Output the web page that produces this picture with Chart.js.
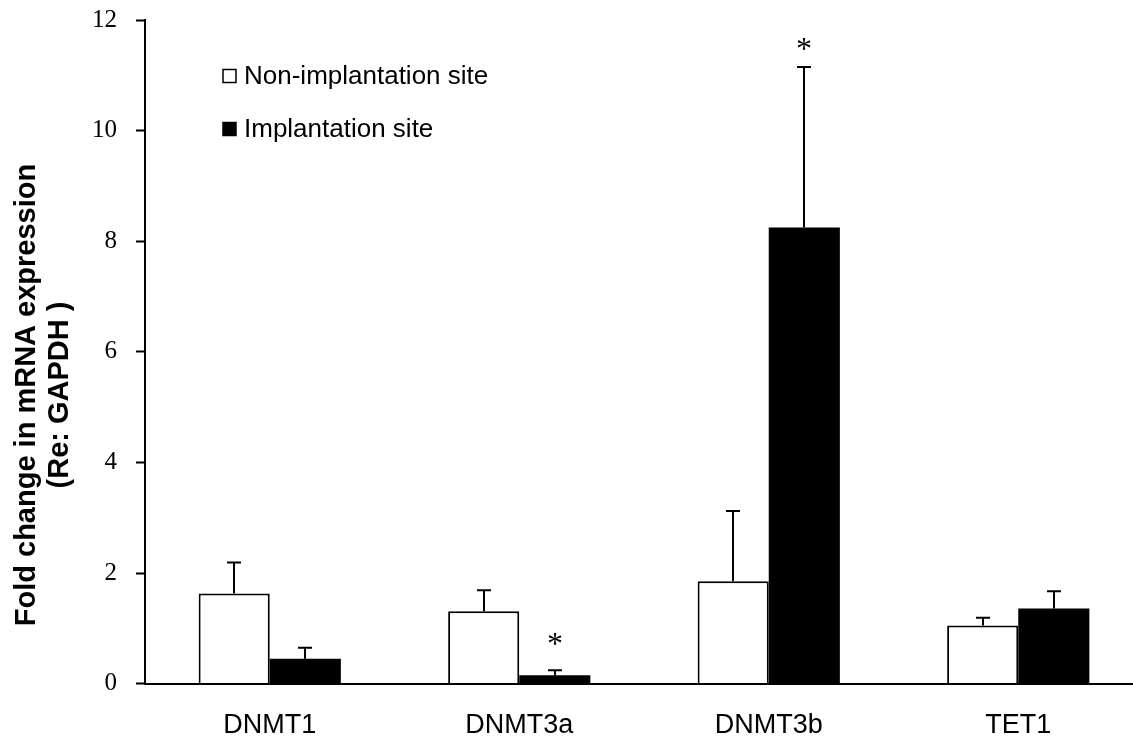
<!DOCTYPE html>
<html><head><meta charset="utf-8">
<script src="https://cdn.jsdelivr.net/npm/chart.js@4/dist/chart.umd.min.js"></script>
<style>html,body{margin:0;padding:0;background:#fff;overflow:hidden}#wrap{width:1133px;height:740px;overflow:hidden;position:relative}#c{position:absolute;left:0;top:-14px}</style>
</head><body><div id="wrap"><canvas id="c" width="1143" height="782" style="width:1143px;height:782px"></canvas></div>
<script>
const categories = ['DNMT1', 'DNMT3a', 'DNMT3b', 'TET1'];
const nonImplantation = [1.63, 1.31, 1.85, 1.05];
const nonImplantationErr = [0.56, 0.38, 1.27, 0.14];
const implantation = [0.45, 0.15, 8.25, 1.36];
const implantationErr = [0.20, 0.09, 2.90, 0.31];
const implantationSig = ['', '*', '*', ''];
const implantationSigAt = [null, 0.78, 11.53, null];
const yTicks = [0, 2, 4, 6, 8, 10, 12];
const yTitle = ['Fold change in mRNA expression', '(Re: GAPDH )'];
const OFFSET = 14; // canvas is shifted up by this many pixels in the page

const errorBars = {
  id: 'errorBars',
  afterDatasetsDraw(chart) {
    const ctx = chart.ctx, y = chart.scales.y;
    chart.data.datasets.forEach((ds, di) => {
      const meta = chart.getDatasetMeta(di);
      meta.data.forEach((bar, i) => {
        const top = y.getPixelForValue(ds.data[i] + ds.err[i]);
        const x = Math.round(bar.x);
        ctx.save();
        ctx.strokeStyle = '#000'; ctx.lineWidth = 2;
        ctx.beginPath();
        ctx.moveTo(x, bar.y); ctx.lineTo(x, top);
        ctx.moveTo(x - 7, top); ctx.lineTo(x + 7, top);
        ctx.stroke();
        if (ds.sig && ds.sig[i]) {
          ctx.fillStyle = '#000';
          ctx.font = '32px "Liberation Serif"';
          ctx.textAlign = 'center'; ctx.textBaseline = 'middle';
          ctx.fillText(ds.sig[i], x, y.getPixelForValue(ds.sigAt[i]) + 5);
        }
        ctx.restore();
      });
    });
  }
};

const innerLegend = {
  id: 'innerLegend',
  afterDraw(chart) {
    const ctx = chart.ctx;
    const x0 = 223, ys = [76 + OFFSET, 129 + OFFSET];
    chart.data.datasets.forEach((ds, i) => {
      ctx.save();
      ctx.fillStyle = ds.backgroundColor;
      ctx.strokeStyle = '#000'; ctx.lineWidth = 1.5;
      ctx.fillRect(x0, ys[i] - 6.5, 13, 13);
      ctx.strokeRect(x0, ys[i] - 6.5, 13, 13);
      ctx.fillStyle = '#000';
      ctx.font = '26px "Liberation Sans"';
      ctx.textBaseline = 'middle';
      ctx.fillText(ds.label, x0 + 21, ys[i] + 1);
      ctx.restore();
    });
  }
};

const axisTitle = {
  id: 'axisTitle',
  afterDraw(chart) {
    const ctx = chart.ctx;
    ctx.save();
    ctx.translate(0, 395 + OFFSET);
    ctx.rotate(-Math.PI / 2);
    ctx.fillStyle = '#000';
    ctx.font = 'bold 29px "Liberation Sans"';
    ctx.textAlign = 'center'; ctx.textBaseline = 'middle';
    ctx.fillText(yTitle[0], 0, 27);
    ctx.fillText(yTitle[1], 0, 60);
    ctx.restore();
  }
};

new Chart(document.getElementById('c'), {
  type: 'bar',
  data: {
    labels: categories,
    datasets: [
      { label: 'Non-implantation site', data: nonImplantation, err: nonImplantationErr,
        backgroundColor: '#ffffff', borderColor: '#000', borderWidth: 2, borderSkipped: 'bottom' },
      { label: 'Implantation site', data: implantation, err: implantationErr, sig: implantationSig, sigAt: implantationSigAt,
        backgroundColor: '#000000', borderColor: '#000', borderWidth: 0 }
    ]
  },
  options: {
    responsive: false, animation: false,
    layout: { padding: { top: 0, left: 73, right: 0, bottom: 0 } },
    plugins: { legend: { display: false }, tooltip: { enabled: false } },
    datasets: { bar: { categoryPercentage: 0.57, barPercentage: 1.0 } },
    scales: {
      x: {
        grid: { display: false, drawTicks: false },
        border: { color: '#000', width: 2 },
        ticks: { color: '#000', font: { family: 'Liberation Sans', size: 27 }, padding: 26 }
      },
      y: {
        min: 0, max: 12,
        afterBuildTicks(s) { s.ticks = yTicks.map(v => ({ value: v })); },
        grid: { display: true, drawOnChartArea: false, drawTicks: true, tickLength: 9, tickColor: '#000', tickWidth: 2 },
        border: { color: '#000', width: 2 },
        ticks: { color: '#000', font: { family: 'Liberation Serif', size: 25 }, padding: 19 }
      }
    }
  },
  plugins: [errorBars, innerLegend, axisTitle]
});
</script></body></html>
